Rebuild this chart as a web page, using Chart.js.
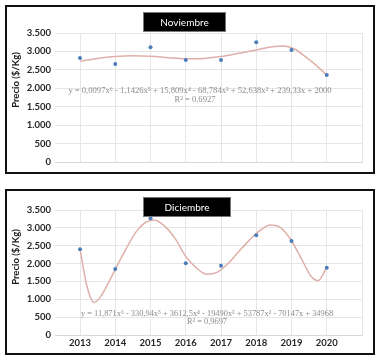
<!DOCTYPE html>
<html>
<head>
<meta charset="utf-8">
<script src="https://cdn.jsdelivr.net/npm/chart.js@4.4.1/dist/chart.umd.min.js"></script>
<style>
  body { margin: 0; background: #fff; width: 380px; height: 360px; overflow: hidden; position: relative; }
  .panel { position: absolute; left: 5px; width: 370px; border: 2px solid #111; box-sizing: border-box; background: #fff; }
  #p1 { top: 5px; height: 169px; }
  #p2 { top: 189px; height: 166px; }
  .panel canvas { display: block; }
</style>
</head>
<body>
<div class="panel" id="p1"><canvas id="novChart" width="366" height="165"></canvas></div>
<div class="panel" id="p2"><canvas id="dicChart" width="366" height="162"></canvas></div>
<script>
/* Precio ($/Kg) por año - Noviembre y Diciembre */

const years  = [2013, 2014, 2015, 2016, 2017, 2018, 2019, 2020];
const yTicks = ['0', '500', '1.000', '1.500', '2.000', '2.500', '3.000', '3.500'];

// observed prices
const novPrices = [2820, 2660, 3110, 2770, 2770, 3250, 3040, 2360];
const dicPrices = [2400, 1850, 3270, 2010, 1940, 2790, 2630, 1880];

// trend line (polynomial)
const novTrendX = [2013, 2013.5, 2014, 2014.5, 2015, 2015.5, 2016, 2016.5, 2017, 2017.5, 2018, 2018.4, 2018.75, 2019.1, 2019.4, 2019.7, 2020];
const novTrendY = [2730, 2810, 2860, 2880, 2870, 2830, 2800, 2810, 2860, 2950, 3040, 3120, 3150, 3060, 2850, 2620, 2360];

const dicTrendX = [2013, 2013.2, 2013.4, 2013.6, 2013.8, 2014, 2014.3, 2014.6, 2014.85, 2015.1, 2015.4, 2015.7, 2016, 2016.3, 2016.6, 2016.9, 2017.2, 2017.5, 2017.8, 2018.1, 2018.4, 2018.7, 2019, 2019.3, 2019.55, 2019.75, 2020];
const dicTrendY = [2400, 1350, 910, 1100, 1450, 1840, 2400, 2900, 3150, 3220, 3050, 2700, 2200, 1880, 1700, 1760, 2000, 2330, 2650, 2920, 3080, 3000, 2640, 2100, 1650, 1520, 1890];

const novEquation = 'y = 0,0097x⁶ - 1,1426x⁵ + 15,809x⁴ - 68,784x³ + 52,638x² + 239,33x + 2000';
const novR2 = 'R² = 0,6927';
const dicEquation = 'y = 11,871x⁶ - 330,94x⁵ + 3612,5x⁴ - 19490x³ + 53787x² - 70147x + 34968';
const dicR2 = 'R² = 0,9697';

// draws the black title box, the y-axis title and the trendline equation
const panelText = {
  id: 'panelText',
  afterDraw(chart, args, opts) {
    const ctx = chart.ctx;
    ctx.save();
    // equation
    ctx.fillStyle = '#8c8c8c';
    ctx.font = opts.eqSize + 'px "Liberation Serif"';
    ctx.textAlign = 'center';
    ctx.textBaseline = 'middle';
    ctx.fillText(opts.eqText, opts.eq[0], opts.eq[1]);
    ctx.fillText(opts.r2Text, opts.r2[0], opts.r2[1]);
    // title box
    const b = opts.box;
    ctx.fillStyle = '#000';
    ctx.fillRect(b[0], b[1], b[2], b[3]);
    ctx.strokeStyle = '#777';
    ctx.lineWidth = 1;
    ctx.strokeRect(b[0] + 0.5, b[1] + 0.5, b[2] - 1, b[3] - 1);
    ctx.fillStyle = '#fff';
    ctx.font = '10px Lato';
    ctx.fillText(opts.title, b[0] + b[2] / 2, b[1] + b[3] / 2 + 0.5);
    // y axis title
    ctx.translate(opts.yTitle[0], opts.yTitle[1]);
    ctx.rotate(-Math.PI / 2);
    ctx.fillStyle = '#1a1a1a';
    ctx.font = 'bold 9.5px Lato';
    ctx.fillText('Precio ($/Kg)', 0, 0);
    ctx.restore();
  }
};

function makeChart(canvasId, prices, trendX, trendY, cfg) {
  return new Chart(document.getElementById(canvasId), {
    type: 'scatter',
    data: {
      datasets: [
        {
          label: 'Precio',
          data: years.map((y, i) => ({ x: y, y: prices[i] })),
          pointRadius: 2,
          pointHoverRadius: 2,
          backgroundColor: '#4a7ebb',
          borderColor: '#4a7ebb',
          borderWidth: 0
        },
        {
          label: 'Tendencia',
          data: trendX.map((x, i) => ({ x: x, y: trendY[i] })),
          showLine: true,
          pointRadius: 0,
          borderColor: '#dfb0aa',
          borderWidth: 1.5,
          cubicInterpolationMode: 'monotone'
        }
      ]
    },
    options: {
      responsive: false,
      animation: false,
      layout: { padding: { left: 0, right: 11, top: cfg.top, bottom: 0 } },
      scales: {
        x: {
          type: 'linear',
          min: 2012.29,
          max: 2021,
          afterBuildTicks: axis => {
            axis.ticks = years.concat([2021]).map(v => ({ value: v }));
          },
          afterFit: s => { s.height = cfg.xHeight; },
          ticks: {
            display: cfg.showX,
            padding: 2,
            color: '#262626',
            font: { family: 'Lato', weight: 'bold', size: 9.5 },
            callback: v => (years.includes(v) ? String(v) : '')
          },
          grid: { color: '#e6e6e6', drawTicks: false },
          border: { color: '#d9d9d9' }
        },
        y: {
          min: 0,
          max: 3500,
          afterBuildTicks: axis => {
            axis.ticks = yTicks.map((t, i) => ({ value: i * 500 }));
          },
          afterFit: s => { s.width = 48; },
          ticks: {
            padding: 4,
            color: '#262626',
            font: { family: 'Lato', weight: 'bold', size: 9.5 },
            callback: (v, i) => yTicks[i]
          },
          grid: { color: '#e6e6e6', drawTicks: false },
          border: { display: false }
        }
      },
      plugins: {
        legend: { display: false },
        tooltip: { enabled: false },
        panelText: cfg.text
      }
    },
    plugins: [panelText]
  });
}

makeChart('novChart', novPrices, novTrendX, novTrendY, {
  top: 26, xHeight: 10, showX: false,
  text: {
    title: 'Noviembre', box: [136, 5, 83, 20],
    yTitle: [9, 73],
    eqSize: 8.6,
    eqText: novEquation, eq: [193, 84],
    r2Text: novR2, r2: [188, 92.5]
  }
});

makeChart('dicChart', dicPrices, dicTrendX, dicTrendY, {
  top: 19, xHeight: 18, showX: true,
  text: {
    title: 'Diciembre', box: [136, 6, 88, 20],
    yTitle: [9, 66],
    eqSize: 8.4,
    eqText: dicEquation, eq: [200, 123],
    r2Text: dicR2, r2: [200, 130.5]
  }
});
</script>
</body>
</html>
